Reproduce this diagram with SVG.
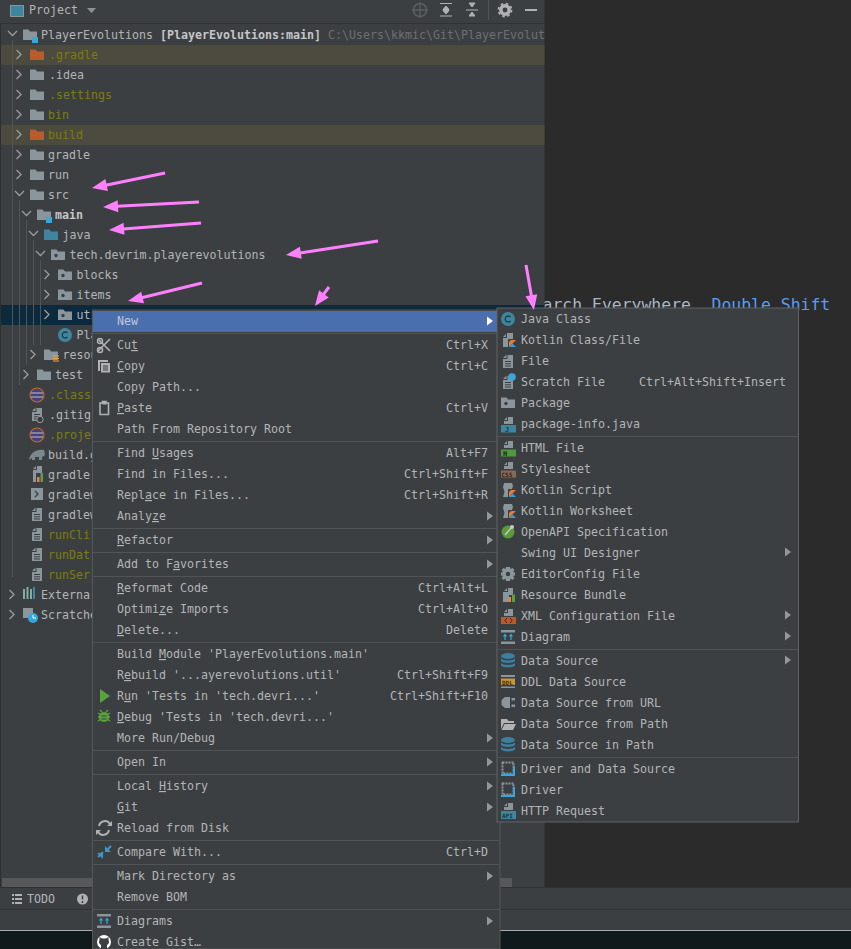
<svg xmlns="http://www.w3.org/2000/svg" width="851" height="949" viewBox="0 0 851 949">
<style>
text{font-family:"DejaVu Sans Mono","Liberation Mono",monospace;font-size:11.63px;fill:#b2b5b7}
.o{fill:#7c7c12}.b{font-weight:bold;fill:#c4c6c8}.d{fill:#6d7072}
.r{text-anchor:end}.u{text-decoration:underline}
.g{fill:#8a959c}.tri{fill:#94979a}
.ed{font-size:16.45px;fill:#a9b7c6}
.chev{fill:none;stroke:#9a9da0;stroke-width:1.3}
.arrow{stroke:#ff80ff;stroke-width:3;fill:none;marker-end:url(#head)}
.ico{font-weight:bold}
</style>
<defs>
<marker id="head" markerUnits="userSpaceOnUse" markerWidth="16" markerHeight="14" refX="0" refY="6" orient="auto" overflow="visible"><path d="M-1 0L14 6L-1 12Z" fill="#ff80ff"/></marker>
<path id="folder" d="M0 2.500V13H14V4.500H7L5.500 2.500Z"/>
<g id="pkg"><path d="M0 2.500V13H14V4.500H7L5.500 2.500Z" fill="#8a959c"/><circle cx="5" cy="8.500" r="1.700" fill="#3c3f41"/></g>
<path id="chr" d="M-2.500 -4L2 0.500L-2.500 5" class="chev"/>
<path id="chd" d="M-4 -2L0.500 2.500L5 -2" class="chev"/>
<g id="doc"><path d="M4.500 1H10V14H0V5H4.500ZM0 4L3.500 0.500V4Z" fill="#8a959c"/><path d="M2 7.500H8M2 9.800H8M2 12H8" stroke="#3c3f41" stroke-width="1"/></g>
<g id="docs"><path d="M5 0H10V7H1V4H5ZM1 3L4 0V3Z" fill="#8a959c"/></g>
<g id="kot"><path d="M5 0H11V6H6V14H1V5H5Z" fill="#8a959c"/><path d="M1 4L4 1V4Z" fill="#8a959c"/><path d="M7 14L14 7H9L7 9Z" fill="#e57a35"/><path d="M7 14H14L10.500 10.500Z" fill="#3a9bdc"/></g>
<g id="kots"><path d="M2 0H10L11 3L10 6H6V14H1L2.500 9L1 4Z" fill="#8a959c"/><path d="M7 14L14 7H9L7 9Z" fill="#e57a35"/><path d="M7 14H14L10.500 10.500Z" fill="#3a9bdc"/></g>
<g id="db"><ellipse cx="7" cy="3" rx="7" ry="3" fill="#3d7f9f"/><path d="M0 5.500C2 8 12 8 14 5.500V8C12 10.500 2 10.500 0 8ZM0 10C2 12.500 12 12.500 14 10V12.500C12 15 2 15 0 12.500Z" fill="#3d7f9f"/></g>
<g id="drv"><rect x="1.500" y="1.500" width="11" height="11" fill="none" stroke="#8a959c" stroke-width="2" stroke-dasharray="2 1"/><path d="M0 14H14" stroke="#36a8de" stroke-width="2"/><path d="M13 5V14" stroke="#36a8de" stroke-width="2"/></g>
<g id="dia"><path d="M0 0H14V2.500H0ZM0 11.500H14V14H0Z" fill="#8a959c"/><path d="M4 10V5M10 10V5M2.500 6.500L4 4.500L5.500 6.500M8.500 6.500L10 4.500L11.500 6.500" stroke="#36a8de" stroke-width="1.200" fill="none"/></g>
<path id="arr" d="M0 -4.500L6 0L0 4.500Z"/>
</defs>

<rect width="851" height="949" fill="#2b2b2b"/>
<text class="ed" x="542.500" y="310">arch Everywhere</text>
<text class="ed" x="711.500" y="310" style="fill:#589df6">Double Shift</text>

<g id="project-panel">
<rect width="544.500" height="888" fill="#3c3f41"/>
<rect y="45" width="544.500" height="20" fill="#4d4a3f"/>
<rect y="125" width="544.500" height="20" fill="#4d4a3f"/>
<rect y="305" width="544.500" height="20" fill="#0d293e"/>
<rect y="23" width="544.500" height="1" fill="#323232"/>
<rect x="0" y="24" width="1" height="864" fill="#2d2f30"/>

<g id="panel-header">
<rect x="10.500" y="5.500" width="13" height="11" fill="#3e86a0" stroke="#8a959c"/>
<text x="29" y="14">Project</text>
<path d="M87 8H96L91.500 13Z" fill="#8f9294"/>
<circle cx="420" cy="10" r="6.500" fill="none" stroke="#5c5f61" stroke-width="1.500"/><path d="M420 2V18M412 10H428" stroke="#5c5f61" stroke-width="1.300"/>
<path d="M440 3.500H452M440 16H452M446 6L443 9.500H449ZM446 14L443 10.500H449Z" stroke="#afb1b3" fill="#afb1b3" stroke-width="1"/>
<path d="M466 10H478M469 3L472 7L475 3ZM469 16L472 12L475 16Z" stroke="#afb1b3" fill="#afb1b3" stroke-width="1"/>
<path d="M488.500 0V20" stroke="#515455"/>
<circle cx="505" cy="10" r="4.200" fill="none" stroke="#afb1b3" stroke-width="3.500"/><circle cx="505" cy="10" r="6.500" fill="none" stroke="#afb1b3" stroke-width="1.800" stroke-dasharray="2.500 2.600"/>
<path d="M525 10H537" stroke="#afb1b3" stroke-width="2"/>
</g>

<path id="tree-guides" d="M12.500 40V577M19.500 200V385M26.500 220V365M33.500 240V345M40.500 260V345" fill="none" stroke="#525557"/>

<g id="tree-chevrons">
<use href="#chd" x="12" y="33"/>
<use href="#chr" x="19" y="54"/><use href="#chr" x="19" y="74"/><use href="#chr" x="19" y="94"/><use href="#chr" x="19" y="114"/><use href="#chr" x="19" y="134"/><use href="#chr" x="19" y="154"/><use href="#chr" x="19" y="174"/>
<use href="#chd" x="19" y="193"/><use href="#chd" x="26" y="213"/><use href="#chd" x="33" y="233"/><use href="#chd" x="40" y="253"/>
<use href="#chr" x="47" y="274"/><use href="#chr" x="47" y="294"/><use href="#chr" x="47" y="314"/>
<use href="#chr" x="33" y="354"/><use href="#chr" x="26" y="374"/>
<use href="#chr" x="12" y="594"/><use href="#chr" x="12" y="614"/>
</g>

<g id="tree-icons">
<use href="#folder" x="23" y="27" fill="#8a959c"/><rect x="32" y="37" width="6" height="6" fill="#36a8de"/>
<use href="#folder" x="30" y="47" fill="#b85c2c"/>
<use href="#folder" x="30" y="67" class="g"/><use href="#folder" x="30" y="87" class="g"/><use href="#folder" x="30" y="107" class="g"/>
<use href="#folder" x="30" y="127" fill="#b85c2c"/>
<use href="#folder" x="30" y="147" class="g"/><use href="#folder" x="30" y="167" class="g"/><use href="#folder" x="30" y="187" class="g"/>
<use href="#folder" x="37" y="207" class="g"/><rect x="46" y="217" width="6" height="6" fill="#36a8de"/>
<use href="#folder" x="44" y="227" fill="#3e86a0"/>
<use href="#pkg" x="51" y="247"/><use href="#pkg" x="58" y="267"/><use href="#pkg" x="58" y="287"/><use href="#pkg" x="58" y="307"/>
<circle cx="65" cy="335" r="7" fill="#3e86a0"/><path d="M67.500 333A3 3 0 1 0 67.500 337" fill="none" stroke="#2b3a40" stroke-width="1.300"/>
<use href="#folder" x="44" y="347" class="g"/><path d="M53 356H59M53 358.500H59M53 361H59" stroke="#e8a33d" stroke-width="1.200"/>
<use href="#folder" x="37" y="367" class="g"/>
<circle cx="37" cy="395" r="7" fill="#47407a"/><path d="M30 393H44M30 397H44" stroke="#c3c3c3"/><circle cx="37" cy="395" r="7" fill="none" stroke="#c26a2b" stroke-width="1.200"/>
<use href="#doc" x="32" y="407"/><circle cx="40" cy="419.500" r="3.200" fill="#3c3f41" stroke="#9a9da0"/>
<circle cx="37" cy="435" r="7" fill="#47407a"/><path d="M30 433H44M30 437H44" stroke="#c3c3c3"/><circle cx="37" cy="435" r="7" fill="none" stroke="#c26a2b" stroke-width="1.200"/>
<path d="M29 460C30 453 36 449 44 450L45 454C45 456 43 456 42 457V460H39V457H35V460H32V458Z" fill="#7b868d"/>
<use href="#docs" x="32" y="466"/><rect x="33" y="473" width="3" height="9" fill="#8a959c"/><path d="M37 482V477H39.500V482Z" fill="#e8862d"/><path d="M40.500 482V473H43V482Z" fill="#5ba13c"/>
<rect x="31" y="488" width="12" height="12" fill="#8a959c"/><path d="M35 491L38 494L35 497" stroke="#3c3f41" stroke-width="1.300" fill="none"/>
<use href="#doc" x="32" y="507"/><use href="#doc" x="32" y="527"/><use href="#doc" x="32" y="547"/><use href="#doc" x="32" y="567"/>
<path d="M23 589V599H25V589ZM26.500 587V599H28.500V587ZM30 589V599H32V589Z" fill="#7fae9e"/><path d="M33 587V599H35V587Z" fill="#3e86a0"/>
<path d="M23 608H33V618H23Z" fill="#8a959c"/><circle cx="33" cy="618" r="5" fill="#36a8de"/><path d="M33 615V618H36" stroke="#fff" fill="none"/>
</g>

<g id="tree-labels">
<text x="41" y="39">PlayerEvolutions <tspan class="b">[PlayerEvolutions:main]</tspan> <tspan class="d">C:\Users\kkmic\Git\PlayerEvolut</tspan></text>
<text class="o" x="49" y="59">.gradle</text>
<text x="49" y="79">.idea</text>
<text class="o" x="49" y="99">.settings</text>
<text class="o" x="48" y="119">bin</text>
<text class="o" x="48" y="139">build</text>
<text x="48" y="159">gradle</text>
<text x="48" y="179">run</text>
<text x="48" y="199">src</text>
<text class="b" x="55" y="219">main</text>
<text x="62.500" y="239">java</text>
<text x="69.500" y="259">tech.devrim.playerevolutions</text>
<text x="76.500" y="279">blocks</text>
<text x="76.500" y="299">items</text>
<text x="76.500" y="319">util</text>
<text x="76.500" y="339">Pla</text>
<text x="62.500" y="359">resou</text>
<text x="55" y="379">test</text>
<text class="o" x="49" y="399">.classp</text>
<text x="49" y="419">.gitig</text>
<text class="o" x="49" y="439">.projec</text>
<text x="48" y="459">build.g</text>
<text x="48" y="479">gradle</text>
<text x="48" y="499">gradlew</text>
<text x="48" y="519">gradlew</text>
<text class="o" x="48" y="539">runCli</text>
<text class="o" x="48" y="559">runDat</text>
<text class="o" x="48" y="579">runSer</text>
<text x="41" y="599">Externa</text>
<text x="41" y="619">Scratche</text>
</g>
<rect id="scrollbar" x="2" y="878" width="510" height="9.500" fill="#565859"/>
</g>

<g id="bottom-bars">
<rect y="887" width="851" height="44" fill="#3c3f41"/>
<path d="M0 887.500H851M0 909.500H851" stroke="#2f3133"/>
<rect y="930" width="851" height="19" fill="#101a1d"/>
<rect y="930" width="851" height="1" fill="#a7a9ab"/>
<path d="M12 895H22M12 899H22M12 903H22" stroke="#afb1b3" stroke-width="1.800" stroke-dasharray="2 1 7"/>
<text x="27" y="903">TODO</text>
<circle cx="82.500" cy="899" r="5.500" fill="#afb1b3"/><path d="M82.500 895.500V899.500M82.500 901V903" stroke="#3c3f41" stroke-width="1.500"/>
</g>

<g id="context-menu">
<rect x="92.500" y="310" width="407.500" height="639" fill="#3c3f41" stroke="#555859"/>
<rect x="93" y="311" width="407" height="21" fill="#4b6eaf"/>
<path d="M93 333.500H500M93 441.500H500M93 528.500H500M93 552.500H500M93 576.500H500M93 642.500H500M93 750.500H500M93 774.500H500M93 840.500H500M93 864.500H500M93 909.500H500" fill="none" stroke="#515455"/>
<g id="menu-labels">
<text x="117" y="325" style="fill:#c0c8d0">New</text>
<text x="117" y="349">Cu<tspan class="u">t</tspan></text>
<text x="117" y="370"><tspan class="u">C</tspan>opy</text>
<text x="117" y="391">Copy Path...</text>
<text x="117" y="412"><tspan class="u">P</tspan>aste</text>
<text x="117" y="433">Path From Repository Root</text>
<text x="117" y="457">Find <tspan class="u">U</tspan>sages</text>
<text x="117" y="478">Find in Files...</text>
<text x="117" y="499">Repl<tspan class="u">a</tspan>ce in Files...</text>
<text x="117" y="520">Analy<tspan class="u">z</tspan>e</text>
<text x="117" y="544"><tspan class="u">R</tspan>efactor</text>
<text x="117" y="568">Add to F<tspan class="u">a</tspan>vorites</text>
<text x="117" y="592"><tspan class="u">R</tspan>eformat Code</text>
<text x="117" y="613">Optimi<tspan class="u">z</tspan>e Imports</text>
<text x="117" y="634"><tspan class="u">D</tspan>elete...</text>
<text x="117" y="658">Build <tspan class="u">M</tspan>odule 'PlayerEvolutions.main'</text>
<text x="117" y="679">R<tspan class="u">e</tspan>build '...ayerevolutions.util'</text>
<text x="117" y="700">R<tspan class="u">u</tspan>n 'Tests in 'tech.devri...'</text>
<text x="117" y="721"><tspan class="u">D</tspan>ebug 'Tests in 'tech.devri...'</text>
<text x="117" y="742">More Run/Debug</text>
<text x="117" y="766">Open In</text>
<text x="117" y="790">Local <tspan class="u">H</tspan>istory</text>
<text x="117" y="811"><tspan class="u">G</tspan>it</text>
<text x="117" y="832">Reload from Disk</text>
<text x="117" y="856">Compare With...</text>
<text x="117" y="880">Mark Directory as</text>
<text x="117" y="901">Remove BOM</text>
<text x="117" y="925">Diagrams</text>
<text x="117" y="946">Create Gist…</text>
</g>
<g id="menu-shortcuts">
<text class="r" x="488" y="349">Ctrl+X</text>
<text class="r" x="488" y="370">Ctrl+C</text>
<text class="r" x="488" y="412">Ctrl+V</text>
<text class="r" x="488" y="457">Alt+F7</text>
<text class="r" x="488" y="478">Ctrl+Shift+F</text>
<text class="r" x="488" y="499">Ctrl+Shift+R</text>
<text class="r" x="488" y="592">Ctrl+Alt+L</text>
<text class="r" x="488" y="613">Ctrl+Alt+O</text>
<text class="r" x="488" y="634">Delete</text>
<text class="r" x="488" y="679">Ctrl+Shift+F9</text>
<text class="r" x="488" y="700">Ctrl+Shift+F10</text>
<text class="r" x="488" y="856">Ctrl+D</text>
</g>
<g id="menu-arrows" class="tri">
<use href="#arr" x="487" y="321" style="fill:#fff"/>
<use href="#arr" x="487" y="516"/><use href="#arr" x="487" y="540"/><use href="#arr" x="487" y="564"/><use href="#arr" x="487" y="738"/><use href="#arr" x="487" y="762"/><use href="#arr" x="487" y="786"/><use href="#arr" x="487" y="807"/><use href="#arr" x="487" y="876"/><use href="#arr" x="487" y="921"/>
</g>
<g id="menu-icons">
<path d="M98 339L110 351M110 339L98 351" stroke="#afb1b3" stroke-width="1.600"/><circle cx="100" cy="350" r="2.500" fill="none" stroke="#afb1b3" stroke-width="1.500"/><circle cx="100" cy="341" r="2.500" fill="none" stroke="#afb1b3" stroke-width="1.500"/>
<path d="M98 360H108V362H100V371H98Z" fill="#afb1b3"/><rect x="101" y="363" width="9" height="9.500" fill="#afb1b3"/><path d="M103 366H108M103 368H108M103 370H108" stroke="#3c3f41"/>
<path d="M100 403H102.500V401.500H106V403H108.500V414.500H100Z" fill="none" stroke="#afb1b3" stroke-width="1.600"/><rect x="102.500" y="401" width="4" height="3.500" fill="#afb1b3"/>
<path d="M100 689L110 696L100 703Z" fill="#59a53c"/>
<circle cx="104" cy="717" r="5" fill="#59a53c"/><path d="M98 713L110 721M98 721L110 713M98 717H110M100 710L102 712M108 710L106 712" stroke="#59a53c" stroke-width="1.300"/><path d="M101.500 716H106.500M101.500 719H106.500" stroke="#3c3f41"/>
<path d="M110 824A6 6 0 0 0 99 826M98 832A6 6 0 0 0 109 830" fill="none" stroke="#afb1b3" stroke-width="2"/><path d="M107 826H112V821ZM101 830H96V835Z" fill="#afb1b3"/>
<path d="M98 857L103 852M106 851L111 846" stroke="#3d97c9" stroke-width="2"/><path d="M97 853H103V859ZM105 846V852H111Z" fill="#3d97c9"/>
<use href="#dia" x="97" y="914"/>
<circle cx="104" cy="942" r="7" fill="#fff"/><path d="M101 949V945C99 944 98.500 942 99.500 940V937L102 938.500H106L108.500 937V940C109.500 942 109 944 107 945V949Z" fill="#3c3f41"/>
</g>
</g>

<g id="new-submenu">
<rect x="497" y="308" width="301.500" height="514" fill="#3c3f41" stroke="#606365"/>
<path d="M497 436.500H798M497 649.500H798M497 757.500H798" stroke="#515455" fill="none"/>
<g id="sub-labels">
<text x="521" y="323">Java Class</text>
<text x="521" y="344">Kotlin Class/File</text>
<text x="521" y="365">File</text>
<text x="521" y="386">Scratch File</text>
<text class="r" x="786" y="386">Ctrl+Alt+Shift+Insert</text>
<text x="521" y="407">Package</text>
<text x="521" y="428">package-info.java</text>
<text x="521" y="452">HTML File</text>
<text x="521" y="473">Stylesheet</text>
<text x="521" y="494">Kotlin Script</text>
<text x="521" y="515">Kotlin Worksheet</text>
<text x="521" y="536">OpenAPI Specification</text>
<text x="521" y="557">Swing UI Designer</text>
<text x="521" y="578">EditorConfig File</text>
<text x="521" y="599">Resource Bundle</text>
<text x="521" y="620">XML Configuration File</text>
<text x="521" y="641">Diagram</text>
<text x="521" y="665">Data Source</text>
<text x="521" y="686">DDL Data Source</text>
<text x="521" y="707">Data Source from URL</text>
<text x="521" y="728">Data Source from Path</text>
<text x="521" y="749">Data Source in Path</text>
<text x="521" y="773">Driver and Data Source</text>
<text x="521" y="794">Driver</text>
<text x="521" y="815">HTTP Request</text>
</g>
<g class="tri">
<use href="#arr" x="785" y="552"/><use href="#arr" x="785" y="615"/><use href="#arr" x="785" y="636"/><use href="#arr" x="785" y="660"/>
</g>
<g id="sub-icons">
<circle cx="508" cy="319" r="7" fill="#3e86a0"/><path d="M510.500 317A3 3 0 1 0 510.500 321" fill="none" stroke="#2b3a40" stroke-width="1.300"/>
<use href="#kot" x="502" y="333"/>
<use href="#doc" x="503" y="354"/>
<use href="#doc" x="503" y="375"/><circle cx="512" cy="377" r="3.800" fill="#36a8de"/>
<use href="#pkg" x="501" y="395"/>
<use href="#docs" x="503" y="417"/><rect x="501" y="425" width="15" height="7.500" fill="#3e86a0"/><text class="ico" x="505" y="431.500" style="font-size:7px;fill:#2b3a40">J</text>
<use href="#docs" x="503" y="441"/><rect x="501" y="449.500" width="15" height="7" fill="#4f9a3c"/><text class="ico" x="503" y="456" style="font-size:7px;fill:#1c2c14">H</text>
<use href="#docs" x="503" y="462"/><rect x="501" y="470.500" width="15" height="7" fill="#8a6a56"/><text class="ico" x="501.500" y="477" style="font-size:6px;fill:#30211a">CSS</text>
<use href="#kots" x="502" y="483"/>
<use href="#kots" x="502" y="504"/>
<circle cx="508" cy="532" r="6.500" fill="#5a9a3c"/><path d="M505 535L512 527" stroke="#c8c8c8" stroke-width="1.500"/><circle cx="512" cy="527" r="2" fill="#c8c8c8"/>
<path d="M506 567H510L510.500 569L512.500 568L514.500 570L513 572L515 572.500V575.500L513 576L514.500 578L512.500 580L510.500 578.500L510 581H506L505.500 578.500L503.500 580L501.500 578L503 576L501 575.500V572.500L503 572L501.500 570L503.500 568L505.500 569Z" fill="#8a959c"/><circle cx="508" cy="574" r="2.200" fill="#3c3f41"/>
<use href="#docs" x="503" y="588"/><rect x="503" y="592" width="6" height="10" fill="#8a959c"/><path d="M508.500 602V597H511V602Z" fill="#e8862d"/><path d="M512 602V594.500H515V602Z" fill="#5ba13c"/>
<use href="#docs" x="503" y="609"/><rect x="501" y="617" width="15" height="7" fill="#b85c2c"/><path d="M507 618L505 620.500L507 623M510 618L512 620.500L510 623" stroke="#3c2015" fill="none"/>
<use href="#dia" x="501" y="630"/>
<use href="#db" x="501" y="653"/>
<rect x="501" y="675" width="14" height="2" fill="#8a959c"/><rect x="501" y="678.500" width="14" height="6.500" fill="#c5983b"/><text class="ico" x="502" y="684.500" style="font-size:6px;fill:#3a2e10">DDL</text><rect x="501" y="686.500" width="14" height="1.500" fill="#8a959c"/>
<path d="M505 697H510V708H505L501.500 705V700ZM511.500 698H515V700.500H511.500ZM511.500 704.500H515V707H511.500Z" fill="#8a959c"/>
<path d="M501 719H507L508.500 721H514V723H504L501 729ZM504.500 724H516L513 730H501.500Z" fill="#afb1b3"/>
<use href="#db" x="501" y="737"/>
<use href="#drv" x="501" y="761"/>
<use href="#drv" x="501" y="782"/>
<use href="#docs" x="503" y="803"/><rect x="501" y="811" width="15" height="8" fill="#3e86a0"/><text class="ico" x="502" y="817.500" style="font-size:6px;fill:#20323a">API</text>
</g>
</g>

<g id="connectors">
<path class="arrow" d="M165 173L105.700 185.200"/>
<path class="arrow" d="M199 202L117 206.300"/>
<path class="arrow" d="M201 223L123 228.900"/>
<path class="arrow" d="M378 241L299.800 252.900"/>
<path class="arrow" d="M202 283L141.600 297.700"/>
<path class="arrow" d="M329 287L323.300 294.700"/>
<path class="arrow" d="M526 265L531.500 296.200"/>
</g>
</svg>
